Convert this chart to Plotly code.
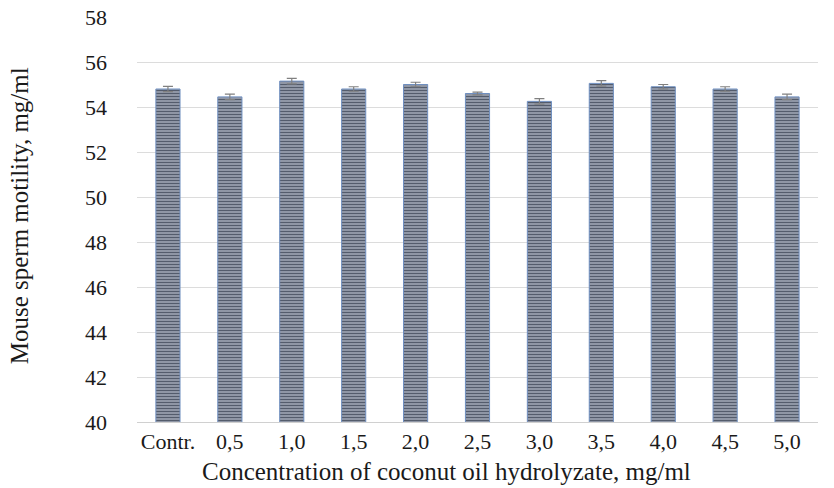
import plotly.graph_objects as go

# Sperm motility per hydrolyzate concentration
categories = ["Contr.", "0,5", "1,0", "1,5", "2,0", "2,5", "3,0", "3,5", "4,0", "4,5", "5,0"]
motility = [54.8, 54.45, 55.15, 54.8, 55.0, 54.6, 54.25, 55.05, 54.9, 54.8, 54.45]
errors = [0.12, 0.12, 0.12, 0.1, 0.1, 0.06, 0.12, 0.12, 0.1, 0.1, 0.12]
y_ticks = [40, 42, 44, 46, 48, 50, 52, 54, 56, 58]

x_title = "Concentration of coconut oil hydrolyzate, mg/ml"
y_title = "Mouse sperm motility, mg/ml"

font_family = "Liberation Serif"
text_color = "#1a1a1a"

fig = go.Figure(
    go.Bar(
        x=categories,
        y=motility,
        error_y=dict(type="data", array=errors, color="#808080", thickness=1.2, width=5),
        marker=dict(
            color="#8d97a7",
            line=dict(color="#6f8fc0", width=1),
            pattern=dict(shape="-", size=3, solidity=0.45,
                         fgcolor="#0e1628", bgcolor="#9aa2b0", fillmode="overlay"),
        ),
        width=0.39,
    )
)

fig.update_layout(
    width=834,
    height=488,
    margin=dict(l=137, r=16, t=17, b=66),
    paper_bgcolor="white",
    plot_bgcolor="white",
    showlegend=False,
    font=dict(family=font_family, size=22, color=text_color),
    xaxis=dict(
        type="category",
        automargin=False,
        showgrid=False,
        showline=True,
        linecolor="#d0d0d0",
        linewidth=1,
        ticks="",
        ticklabelstandoff=0,
        tickfont=dict(family=font_family, size=22, color=text_color),
    ),
    yaxis=dict(
        range=[40, 58],
        tickvals=y_ticks,
        automargin=False,
        showgrid=True,
        gridcolor="#dcdcdc",
        gridwidth=1,
        zeroline=False,
        showline=False,
        ticks="",
        ticklabelstandoff=29,
        tickfont=dict(family=font_family, size=22, color=text_color),
    ),
    annotations=[
        dict(text=x_title, xref="paper", yref="paper", x=0.455, y=-0.122,
             xanchor="center", yanchor="middle", showarrow=False,
             font=dict(family=font_family, size=25, color=text_color)),
        dict(text=y_title, xref="paper", yref="paper", x=-0.172, y=0.51,
             xanchor="center", yanchor="middle", showarrow=False, textangle=-90,
             font=dict(family=font_family, size=25, color=text_color)),
    ],
)

fig.write_html("out.html")
